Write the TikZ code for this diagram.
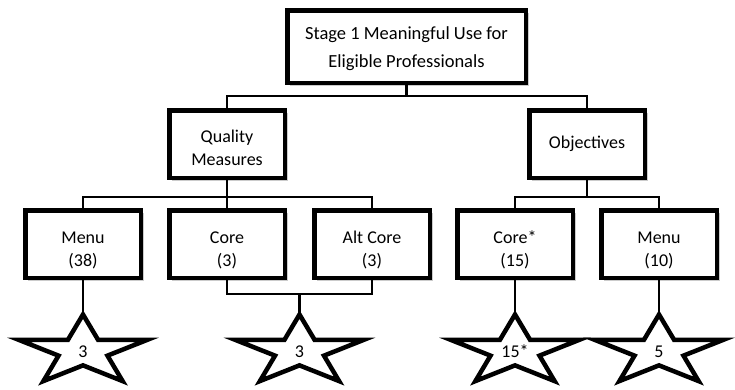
\documentclass[tikz,border=0pt]{standalone}
\usepackage{fontspec}
\setmainfont{Carlito}
\usetikzlibrary{shadows}
\newcommand\dn[1]{\rule{0pt}{#1pt}}
\tikzset{
  box/.style={draw=black, line width=4.5pt, fill=white, align=center, inner sep=0pt,
    font=\fontsize{18}{23}\selectfont,
    drop shadow={shadow xshift=3.2pt, shadow yshift=-3.2pt, opacity=0.45, fill=black!45}},
  smallbox/.style={box, minimum width=115.5pt, minimum height=67.5pt},
  topbox/.style={box, minimum width=238.5pt, minimum height=72.5pt, font=\fontsize{18.5}{28}\selectfont},
  conn/.style={line width=2.8pt},
  starline/.style={draw=black, fill=white, line width=4.5pt, line join=miter},
  startext/.style={font=\fontsize{18}{22}\selectfont, inner sep=0pt},
}
\newcommand\mkstar[4]{%
  \begin{scope}[shift={(#2,#3)}, xscale=1.83, yscale=-1]
    \draw[starline] (90:36.8) -- (126:14.06) -- (162:36.8) -- (198:14.06) -- (234:36.8)
      -- (270:14.06) -- (306:36.8) -- (342:14.06) -- (18:36.8) -- (54:14.06) -- cycle;
    \coordinate (#1top) at (90:36.8);
  \end{scope}
  \node[startext] (#1) at (#2,#3) {#4};
}
\begin{document}
\begin{tikzpicture}[x=1pt, y=-1pt]
  \useasboundingbox (0,0) rectangle (735,389);
  \coordinate (j1) at (407.5,96);
  \coordinate (j2) at (227,197);
  \coordinate (j4) at (587,197);
  \coordinate (j3) at (299.5,294);

  \node[topbox] (top) at (406.5,46.5) {\dn{17}Stage 1 Meaningful Use for\\Eligible Professionals};
  \node[smallbox] (qm) at (227,144) {\dn{20}Quality\\Measures};
  \node[smallbox] (obj) at (587,144) {Objectives};
  \node[smallbox] (m1) at (83,244) {\dn{24}Menu\\(38)};
  \node[smallbox] (c1) at (227,244) {\dn{24}Core\\(3)};
  \node[smallbox] (a1) at (372,244) {\dn{24}Alt Core\\(3)};
  \node[smallbox] (c2) at (515,244) {\dn{24}Core*\\(15)};
  \node[smallbox] (m2) at (659,244) {\dn{24}Menu\\(10)};

  \draw[conn] (top.south) -- (top.south |- j1);
  \draw[conn] (qm.north) -- (qm.north |- j1) -- (obj.north |- j1) -- (obj.north);
  \draw[conn] (qm.south) -- (j2);
  \draw[conn] (m1.north) -- (m1.north |- j2) -- (a1.north |- j2) -- (a1.north);
  \draw[conn] (c1.north) -- (j2);
  \draw[conn] (obj.south) -- (j4);
  \draw[conn] (c2.north) -- (c2.north |- j4) -- (m2.north |- j4) -- (m2.north);
  \draw[conn] (c1.south) -- (c1.south |- j3) -- (a1.south |- j3) -- (a1.south);

  \mkstar{s1}{83}{351.3}{3}
  \mkstar{s2}{299.5}{351.3}{3}
  \mkstar{s3}{515}{351.3}{15*}
  \mkstar{s4}{659}{351.3}{5}

  \draw[conn] (m1.south) -- (s1top);
  \draw[conn] (j3) -- (s2top);
  \draw[conn] (c2.south) -- (s3top);
  \draw[conn] (m2.south) -- (s4top);
\end{tikzpicture}
\end{document}
